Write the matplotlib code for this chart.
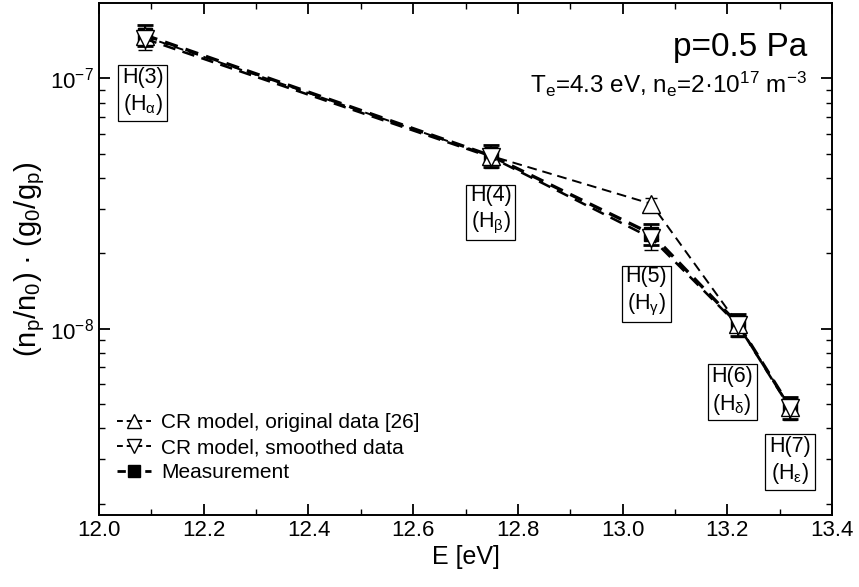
import numpy as np
import matplotlib
matplotlib.use('Agg')
import matplotlib.pyplot as plt
from matplotlib.lines import Line2D

plt.rcParams['font.family'] = ['Liberation Sans', 'DejaVu Sans']
plt.rcParams['mathtext.fontset'] = 'custom'
plt.rcParams['mathtext.rm'] = 'Liberation Sans'
plt.rcParams['mathtext.it'] = 'Liberation Sans'
plt.rcParams['mathtext.bf'] = 'Liberation Sans:bold'
plt.rcParams['font.size'] = 15

# level energies [eV] and populations
energy = [12.087, 12.748, 13.055, 13.221, 13.320]
levels = ['H(3)', 'H(4)', 'H(5)', 'H(6)', 'H(7)']
greek = ['α', 'β', 'γ', 'δ', 'ε']
cr_original = [1.47e-7, 4.90e-8, 3.15e-8, 1.04e-8, 4.85e-9]
cr_smoothed = [1.44e-7, 4.85e-8, 2.30e-8, 1.03e-8, 4.80e-9]
measured = [1.49e-7, 4.91e-8, 2.39e-8, 1.04e-8, 4.85e-9]
rel_err = 0.10

fig = plt.figure(figsize=(8.59, 5.87), dpi=100)
ax = fig.add_axes([0.1153, 0.1227, 0.8533, 0.8722])

ax.errorbar(energy, cr_original, yerr=np.array(cr_original)*rel_err*0.6, color='k', ls=(0, (5, 3)), lw=1.4,
            marker='^', ms=12.5, mfc='white', mec='k', mew=1.0, capsize=4, elinewidth=1)
ax.errorbar(energy, cr_smoothed, yerr=np.array(cr_smoothed)*rel_err, color='k', ls=(0, (5, 3)), lw=1.8,
            marker='v', ms=12.5, mfc='white', mec='k', mew=1.0, capsize=5, elinewidth=1)
ax.errorbar(energy, measured, yerr=np.array(measured)*rel_err, color='k', ls=(0, (4, 2.5)), lw=2.4,
            marker='s', ms=10.5, mfc='k', mec='k', capsize=6, elinewidth=1.4, capthick=2,
            zorder=1)

ax.set_yscale('log')
ax.set_xlim(12.0, 13.4)
ax.set_ylim(1.8e-9, 2.0e-7)
ax.set_yticks([1e-8, 1e-7])
ax.yaxis.set_minor_locator(matplotlib.ticker.FixedLocator(
    [2e-9, 3e-9, 4e-9, 5e-9, 6e-9, 7e-9, 8e-9, 9e-9,
     2e-8, 3e-8, 4e-8, 5e-8, 6e-8, 7e-8, 8e-8, 9e-8]))
ax.yaxis.set_minor_formatter(matplotlib.ticker.NullFormatter())
xt = np.arange(12.0, 13.41, 0.2)
ax.set_xticks(xt)
ax.set_xticklabels(['%.1f' % v for v in xt])
ax.xaxis.set_minor_locator(matplotlib.ticker.MultipleLocator(0.1))
ax.tick_params(which='both', direction='in', top=True, right=True, labelsize=16)
ax.tick_params(which='major', length=8, width=1.3)
ax.tick_params(which='minor', length=4, width=1)
for s in ax.spines.values():
    s.set_linewidth(1.4)

ax.set_xlabel('E [eV]', fontsize=18, labelpad=3)
ax.set_ylabel('(n$_\\mathrm{p}$/n$_0$) · (g$_0$/g$_\\mathrm{p}$)', fontsize=21, labelpad=2)

offsets = [(-2, -57), (0, -55), (-5, -58), (-6, -67), (0, -54)]
for e, m, lev, g, off in zip(energy, measured, levels, greek, offsets):
    ax.annotate(lev + '\n(H$_{\\mathrm{' + g + '}}$)', xy=(e, m), xytext=off,
                textcoords='offset pixels', ha='center', va='center', fontsize=15.5,
                linespacing=1.25,
                bbox=dict(boxstyle='square,pad=0.18', fc='white', ec='k', lw=0.9))

ax.text(0.966, 0.914, 'p=0.5 Pa', transform=ax.transAxes, ha='right', va='center', fontsize=24)
ax.text(0.966, 0.84, 'T$_\\mathrm{e}$=4.3 eV, n$_\\mathrm{e}$=2·10$^{17}$ m$^{-3}$',
        transform=ax.transAxes, ha='right', va='center', fontsize=17.5)

handles = [
    Line2D([], [], color='k', ls=(0, (3, 2)), lw=1.4, marker='^', ms=10, mfc='white', mec='k'),
    Line2D([], [], color='k', ls=(0, (3, 2)), lw=1.4, marker='v', ms=10, mfc='white', mec='k'),
    Line2D([], [], color='k', ls=(0, (3, 2)), lw=2.0, marker='s', ms=9, mfc='k', mec='k'),
]
names = ['CR model, original data [26]', 'CR model, smoothed data', 'Measurement']
ax.legend(handles, names, loc='lower left', bbox_to_anchor=(0.005, 0.035), frameon=False, fontsize=15,
          handlelength=1.6, handletextpad=0.5, labelspacing=0.3, borderaxespad=0.3)

fig.savefig('out.png', dpi=100)
